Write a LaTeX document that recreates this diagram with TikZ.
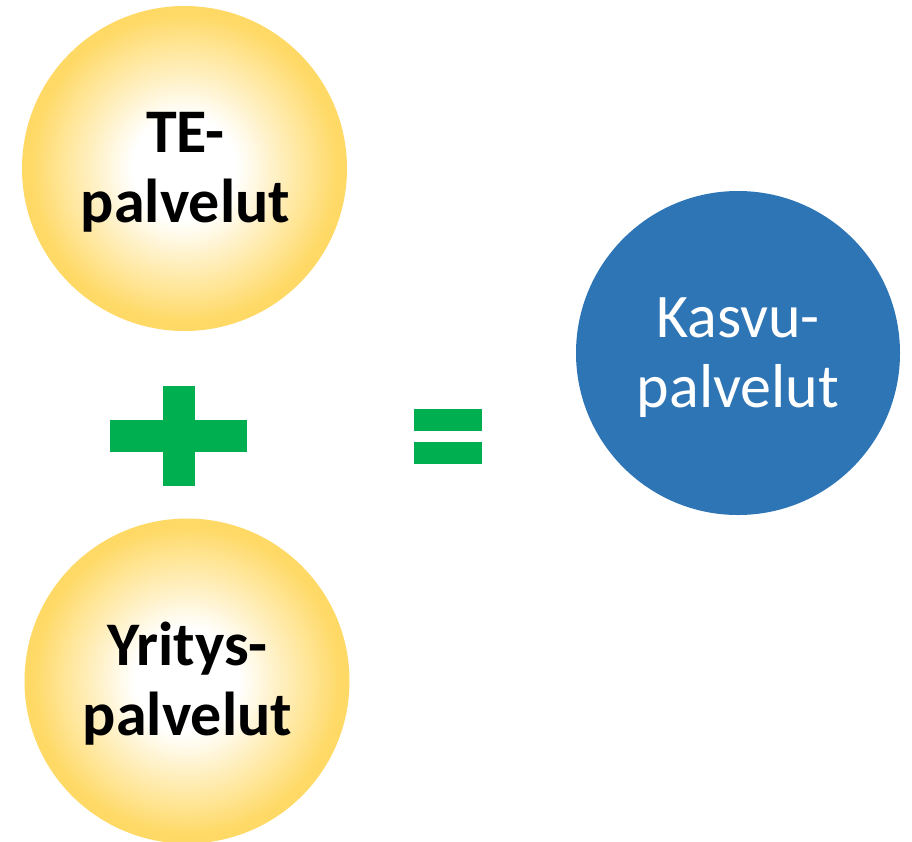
\documentclass[tikz,border=0pt]{standalone}
\usepackage{fontspec}
\setmainfont{Carlito}
\definecolor{edgegold}{HTML}{FFD966}
\definecolor{kblue}{HTML}{2E75B6}
\definecolor{sgreen}{HTML}{00B050}
\tikzset{
  ballspot/.style={circle, minimum size=325pt, inner sep=0pt},
  blueball/.style={circle, minimum size=324pt, inner sep=0pt, fill=kblue},
  balltext/.style={anchor=base, align=center, inner sep=0pt, font=\fontsize{62}{70}\selectfont},
  symbar/.style={fill=sgreen, draw=none}
}
\newcommand{\goldglow}[1]{%
  \foreach \i in {0,...,60}{%
    \pgfmathsetmacro{\tt}{1-\i/60}%
    \pgfmathsetmacro{\pp}{max(0,min(100,(\tt-0.33)/(0.96-0.33)*100))}%
    \fill[edgegold!\pp!white] (#1) circle[radius=162.5*\tt];
  }%
}
\begin{document}
\begin{tikzpicture}[x=1pt,y=-1pt]
\useasboundingbox (0,0) rectangle (912,841);
\node[ballspot] (te) at (184.5,168.5) {};
\goldglow{te.center}
\node[balltext, font=\fontsize{62}{70}\selectfont\bfseries] (tetext) at (185.5,222) {TE-\\palvelut};
\node[ballspot] (yr) at (187,681) {};
\goldglow{yr.center}
\node[balltext, font=\fontsize{62}{70}\selectfont\bfseries] (yrtext) at (187.5,735) {Yritys-\\palvelut};
\node[blueball] (ka) at (738,353) {};
\node[balltext, text=white] (katext) at (738,407) {Kasvu-\\palvelut};
% plus sign
\fill[symbar] (110,420) rectangle (247,452);
\fill[symbar] (163,386) rectangle (195,486);
% equals sign
\fill[symbar] (414,409) rectangle (482,431);
\fill[symbar] (414,442) rectangle (482,464);
\end{tikzpicture}
\end{document}
